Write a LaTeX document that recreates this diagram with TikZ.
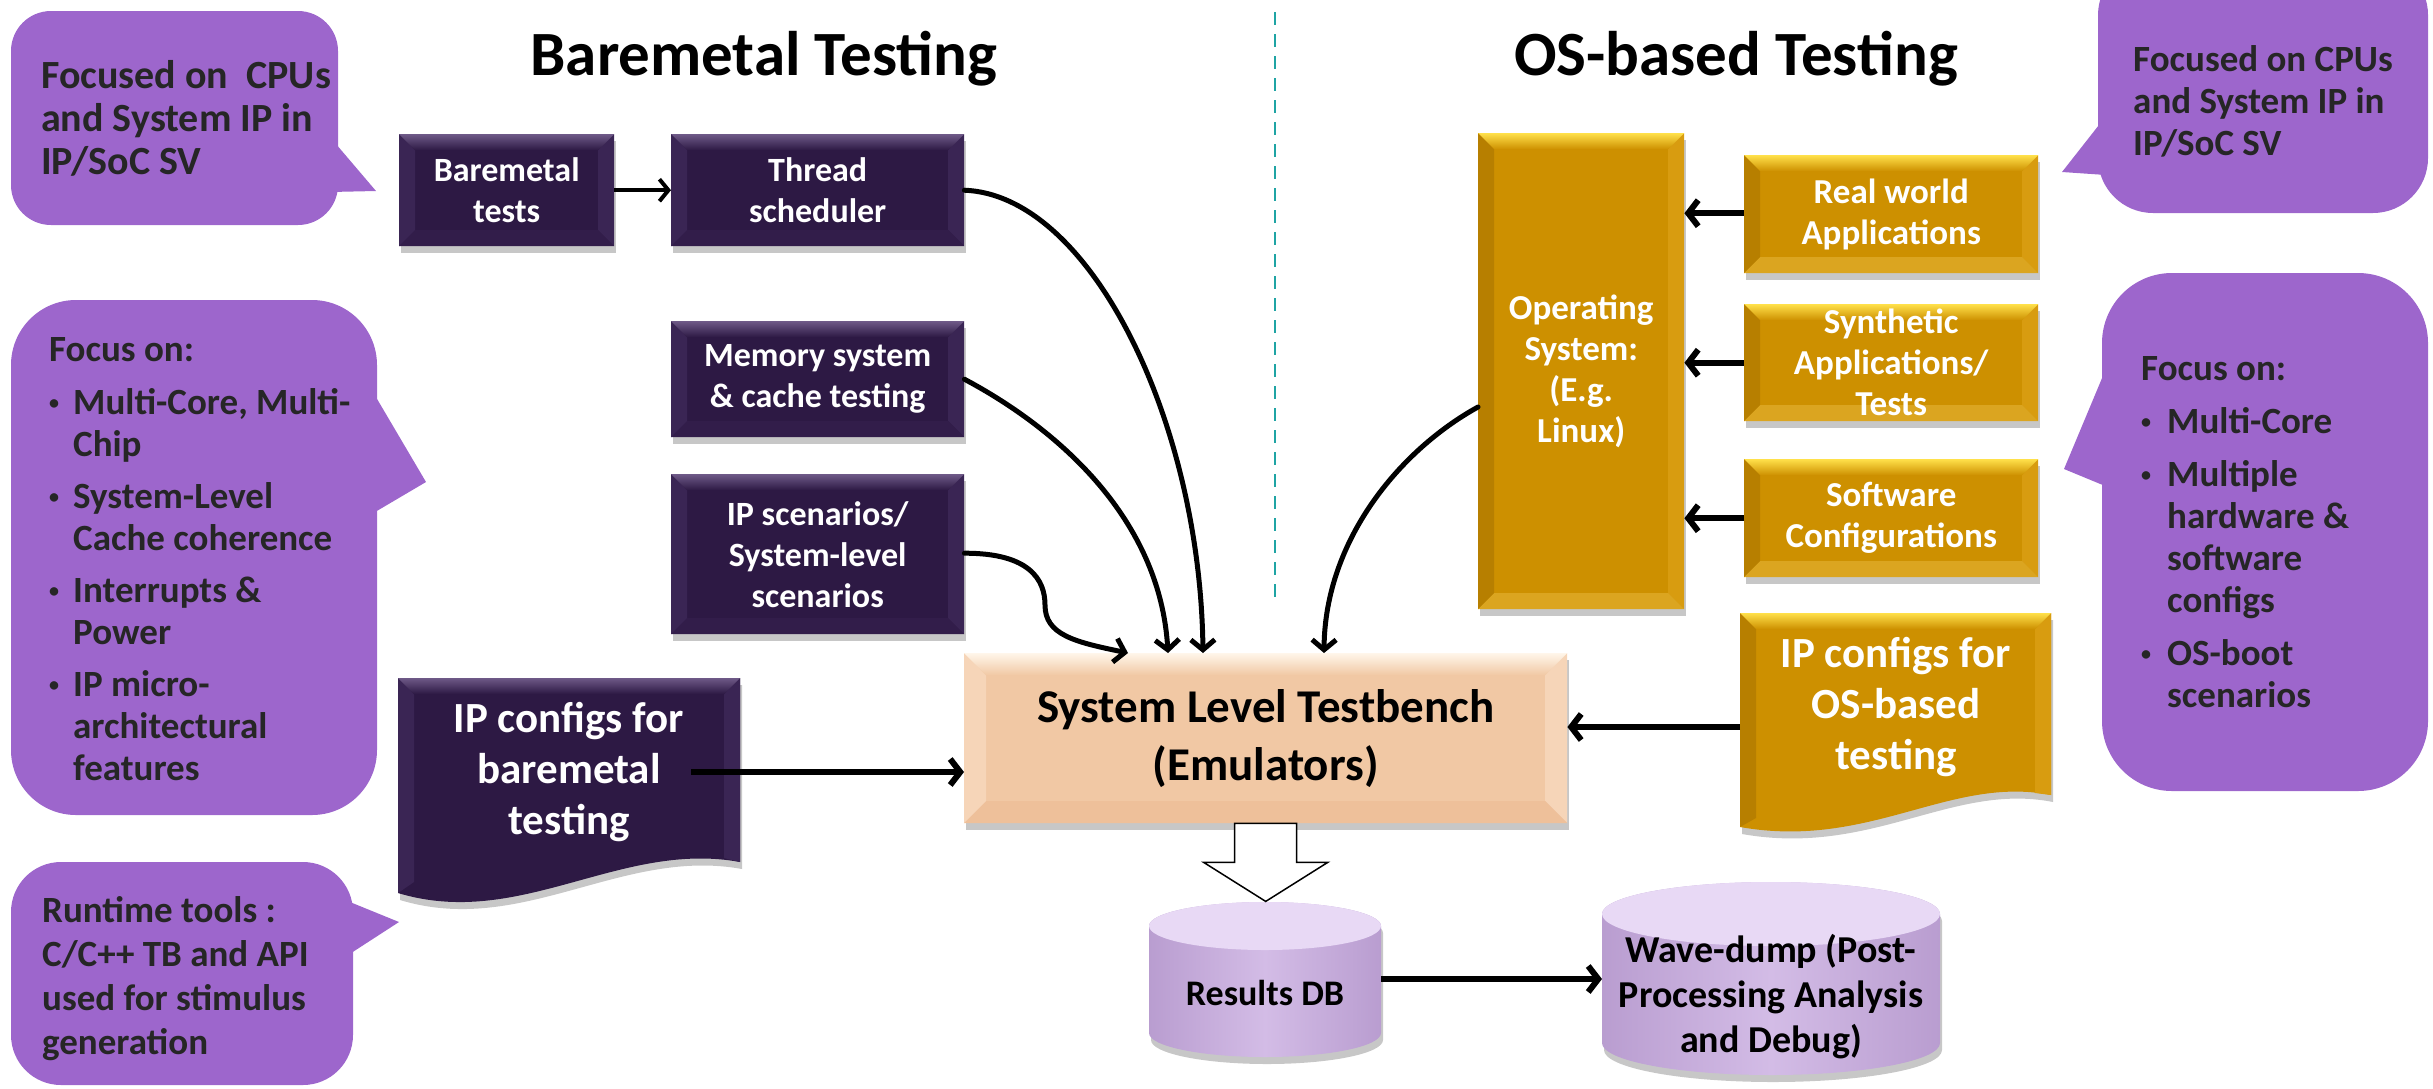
\documentclass[tikz,border=0pt]{standalone}
\usepackage{fontspec}
\setmainfont{Carlito}
\usetikzlibrary{arrows.meta,shadows,calc}

\definecolor{callout}{HTML}{9D66CC}
\definecolor{ctext}{HTML}{262626}
\definecolor{pbase}{HTML}{2D1944}
\definecolor{ptop}{HTML}{6E5987}
\definecolor{pside}{HTML}{3A2554}
\definecolor{pbot}{HTML}{321D4A}
\definecolor{gbase}{HTML}{CD9000}
\definecolor{gtop}{HTML}{FFE04A}
\definecolor{gleft}{HTML}{B77F00}
\definecolor{gright}{HTML}{D89C10}
\definecolor{gbot}{HTML}{DBA520}
\definecolor{sbase}{HTML}{F1C8A4}
\definecolor{stop}{HTML}{FFF6EA}
\definecolor{sside}{HTML}{F6D5B8}
\definecolor{sbot}{HTML}{EEC09A}
\definecolor{cylmid}{HTML}{D3BCE6}
\definecolor{cylside}{HTML}{B99DD0}
\definecolor{cyltop}{HTML}{E8D9F5}
\definecolor{divteal}{HTML}{1FA4A4}

\newcommand{\bdot}{\raisebox{5pt}{\fontsize{20}{20}\selectfont •}}
\newcommand{\bulA}{\makebox[24pt][l]{\bdot}}
\newcommand{\bulB}{\makebox[26pt][l]{\bdot}}

\tikzset{
  bevel/.style n args={6}{path picture={
    \fill[#4] (path picture bounding box.north west) -- ([shift={(#1,-#1)}]path picture bounding box.north west) -- ([shift={(#1,#1)}]path picture bounding box.south west) -- (path picture bounding box.south west) -- cycle;
    \fill[#5] (path picture bounding box.north east) -- ([shift={(-#1,-#1)}]path picture bounding box.north east) -- ([shift={(-#1,#1)}]path picture bounding box.south east) -- (path picture bounding box.south east) -- cycle;
    \fill[#6] (path picture bounding box.south west) -- ([shift={(#1,#1)}]path picture bounding box.south west) -- ([shift={(-#1,#1)}]path picture bounding box.south east) -- (path picture bounding box.south east) -- cycle;
    \shade[top color=#3, bottom color=#2] (path picture bounding box.north west) -- (path picture bounding box.north east) -- ([shift={(-#1,-#1)}]path picture bounding box.north east) -- ([shift={(#1,-#1)}]path picture bounding box.north west) -- cycle;
  }},
  shad/.style={drop shadow={shadow xshift=2pt, shadow yshift=-7pt, fill=black, opacity=0.22}},
  pbox/.style={fill=pbase, text=white, align=center, inner sep=0pt, anchor=north west,
    font=\bfseries\fontsize{34}{41}\selectfont, shad,
    bevel={16pt}{pbase}{ptop}{pside}{pside}{pbot}},
  gbox/.style={fill=gbase, text=white, align=center, inner sep=0pt, anchor=north west,
    font=\bfseries\fontsize{35}{41}\selectfont, shad,
    bevel={16pt}{gbase}{gtop}{gleft}{gright}{gbot}},
  sbox/.style={fill=sbase, text=black, align=center, inner sep=0pt, anchor=north west,
    font=\bfseries\fontsize{47}{58}\selectfont, shad,
    bevel={22pt}{sbase}{stop}{sside}{sside}{sbot}},
  ctxt/.style={text=ctext, align=left, inner sep=0pt, anchor=north west},
  title/.style={font=\bfseries\fontsize{63}{70}\selectfont, anchor=base, inner sep=0pt},
  arr/.style={line width=5pt, -{Straight Barb[length=10pt,width=24pt]}, line cap=round},
  arrthin/.style={line width=4pt, -{Straight Barb[length=9pt,width=22pt]}},
  arrthick/.style={line width=6pt, -{Straight Barb[length=10pt,width=26pt]}},
}

\begin{document}
\begin{tikzpicture}[x=1pt,y=-1pt]
\useasboundingbox (0,0) rectangle (2433,1088);

% titles
\node[title] (t1) at (764,75) {Baremetal Testing};
\node[title] (t2) at (1736,75) {OS-based Testing};

% divider
\draw[divteal, line width=2.5pt, dash pattern=on 13pt off 9pt] (1275,12) -- (1275,597);

% ---- callouts
\fill[callout, rounded corners=40pt] (11,11) rectangle (338,225);
\fill[callout] (330,137) -- (376,191) -- (330,192) -- cycle;
\node[ctxt, font=\bfseries\fontsize{40}{43}\selectfont] (c1) at (41,60) {Focused on\ \ CPUs\\and System IP in\\IP/SoC SV};

\fill[callout, rounded corners=65pt] (11,300) rectangle (377,815);
\fill[callout] (370,387) -- (426,482) -- (370,515) -- cycle;
\node[ctxt, font=\bfseries\fontsize{37}{42}\selectfont] (c2) at (49,337) {Focus on:\\[11pt]
\bulA Multi-Core, Multi-\\ \hspace*{24pt}Chip\\[10pt]
\bulA System-Level\\ \hspace*{24pt}Cache coherence\\[10pt]
\bulA Interrupts \&\\ \hspace*{24pt}Power\\[10pt]
\bulA IP micro-\\ \hspace*{24pt}architectural\\ \hspace*{24pt}features};

\fill[callout, rounded corners=50pt] (11,862) rectangle (353,1085);
\fill[callout] (345,900) -- (399,922) -- (345,957) -- cycle;
\node[ctxt, font=\bfseries\fontsize{37}{44}\selectfont] (c3) at (42,896) {Runtime tools :\\C/C++ TB and API\\used for stimulus\\generation};

\fill[callout, rounded corners=55pt] (2098,-40) rectangle (2428,213);
\fill[callout] (2106,116) -- (2062,172) -- (2106,175) -- cycle;
\node[ctxt, font=\bfseries\fontsize{37}{42}\selectfont] (c4) at (2133,45) {Focused on CPUs\\and System IP in\\IP/SoC SV};

\fill[callout, rounded corners=70pt] (2102,273) rectangle (2428,791);
\fill[callout] (2110,359) -- (2064,469) -- (2110,488) -- cycle;
\node[ctxt, font=\bfseries\fontsize{37}{42}\selectfont] (c5) at (2141,356) {Focus on:\\[11pt]
\bulB Multi-Core\\[11pt]
\bulB Multiple\\ \hspace*{26pt}hardware \&\\ \hspace*{26pt}software\\ \hspace*{26pt}configs\\[11pt]
\bulB OS-boot\\ \hspace*{26pt}scenarios};

% ---- baremetal boxes
\node[pbox, minimum width=215pt, minimum height=112pt] (bmt) at (399,134) {Baremetal\\tests};
\node[pbox, minimum width=293pt, minimum height=112pt] (thr) at (671,134) {Thread\\scheduler};
\node[pbox, minimum width=293pt, minimum height=116pt] (mem) at (671,321) {Memory system\\\& cache testing};
\node[pbox, minimum width=293pt, minimum height=160pt] (ips) at (671,474) {IP scenarios/\\System-level\\scenarios};

% IP configs for baremetal (document shape)
\fill[pbase, shad] (398,678) -- (740,678) -- (740,862) .. controls (620,840) and (520,930) .. (398,893) -- cycle;
\fill[pside] (398,678) -- (414,694) -- (414,882) -- (398,893) -- cycle;
\fill[pside] (740,678) -- (724,694) -- (724,858) -- (740,862) -- cycle;
\shade[top color=ptop, bottom color=pbase] (398,678) -- (740,678) -- (724,694) -- (414,694) -- cycle;
\node[text=white, align=center, inner sep=0pt, font=\bfseries\fontsize{43}{51}\selectfont] (ipbm) at (569,772) {IP configs for\\baremetal\\testing};
\coordinate (ipbmout) at (691,772);

% ---- system level testbench
\node[sbox, minimum width=603pt, minimum height=170pt] (slt) at (964,653) {System Level Testbench\\(Emulators)};
\coordinate (sltA) at (1128,653);
\coordinate (sltB) at (1168,653);
\coordinate (sltC) at (1203,653);
\coordinate (sltD) at (1324,653);

% ---- OS side
\node[gbox, minimum width=206pt, minimum height=476pt] (os) at (1478,133) {Operating\\System:\\(E.g.\\Linux)};
\node[gbox, minimum width=294pt, minimum height=118pt] (rw) at (1744,155) {Real world\\Applications};
\node[gbox, minimum width=294pt, minimum height=117pt] (syn) at (1744,304) {Synthetic\\Applications/\\Tests};
\node[gbox, minimum width=294pt, minimum height=118pt] (swc) at (1744,459) {Software\\Configurations};

% IP configs for OS-based testing (document shape)
\fill[gbase, shad] (1740,613) -- (2051,613) -- (2051,795) .. controls (1950,775) and (1870,850) .. (1740,827) -- cycle;
\fill[gleft] (1740,613) -- (1756,629) -- (1756,818) -- (1740,827) -- cycle;
\fill[gright] (2051,613) -- (2035,629) -- (2035,793) -- (2051,795) -- cycle;
\shade[top color=gtop, bottom color=gbase] (1740,613) -- (2051,613) -- (2035,629) -- (1756,629) -- cycle;
\node[text=white, align=center, inner sep=0pt, font=\bfseries\fontsize{43}{51}\selectfont] (ipos) at (1896,707) {IP configs for\\OS-based\\testing};
\coordinate (iposout) at (1740,727);

% ---- cylinders
\shade[left color=cylside, right color=cylside, middle color=cylmid, shad]
  (1149,1033) arc[start angle=180, end angle=360, x radius=116pt, y radius=24pt]
  -- (1381,926) arc[start angle=0, end angle=180, x radius=116pt, y radius=24pt] -- cycle;
\fill[cyltop] (1265,926) ellipse[x radius=116pt, y radius=24pt];
\node[font=\bfseries\fontsize{36}{43}\selectfont, inner sep=0pt] (rdb) at (1265,993) {Results DB};
\coordinate (rdbout) at (1381,979);

\shade[left color=cylside, right color=cylside, middle color=cylmid, shad]
  (1602,1043) arc[start angle=180, end angle=360, x radius=169pt, y radius=32pt]
  -- (1940,914) arc[start angle=0, end angle=180, x radius=169pt, y radius=32pt] -- cycle;
\fill[cyltop] (1771,914) ellipse[x radius=169pt, y radius=32pt];
\node[font=\bfseries\fontsize{38}{45}\selectfont, align=center, inner sep=0pt] (wave) at (1771,997) {Wave-dump (Post-\\Processing Analysis\\and Debug)};
\coordinate (wavein) at (1602,979);

% ---- hollow arrow SLT -> Results DB
\draw[fill=white, line width=1.5pt, line join=miter]
  ([xshift=-31pt]slt.south) -- ([xshift=31pt]slt.south) -- ([shift={(31pt,-39pt)}]slt.south)
  -- ([shift={(62pt,-39pt)}]slt.south) -- ([shift={(0pt,-78pt)}]slt.south)
  -- ([shift={(-62pt,-39pt)}]slt.south) -- ([shift={(-31pt,-39pt)}]slt.south) -- cycle;

% ---- connectors
\draw[arrthin] (bmt.east) -- (thr.west);
\draw[arr] (thr.east) .. controls (1090,195) and (1200,420) .. (sltC);
\draw[arr] (mem.east) .. controls (1060,430) and (1160,520) .. (sltB);
\draw[arr] ($(ips.east)+(0,-1)$) .. controls (1030,553) and (1045,580) .. (1045,605) .. controls (1045,635) and (1075,642) .. (sltA);
\draw[arr] (1478,407) .. controls (1400,450) and (1325,540) .. (sltD);
\draw[arrthick] (ipbmout) -- (ipbmout -| slt.west);
\draw[arrthick] (iposout) -- (iposout -| slt.east);
\draw[arrthick] ($(rw.west)+(0,-1)$) -- ($(rw.west -| os.east)+(0,-1)$);
\draw[arrthick] (syn.west) -- (syn.west -| os.east);
\draw[arrthick] (swc.west) -- (swc.west -| os.east);
\draw[arrthick] (rdbout) -- (wavein);
\end{tikzpicture}
\end{document}
